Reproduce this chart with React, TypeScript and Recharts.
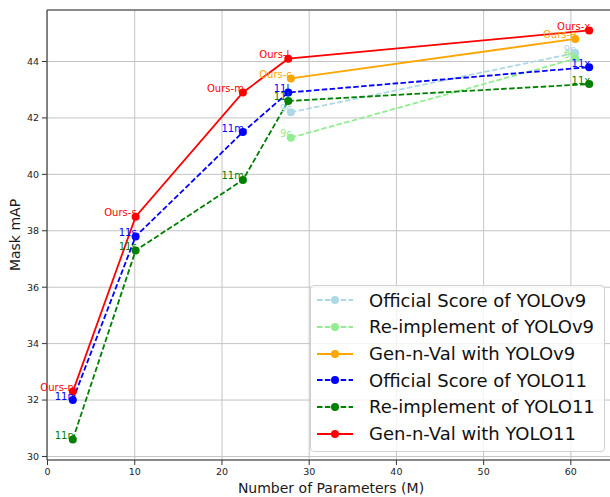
import React from 'react';
import {
  LineChart,
  Line,
  XAxis,
  YAxis,
  CartesianGrid,
  ReferenceLine,
  LabelList,
  Legend,
} from 'recharts';

// ---- data ----
const yolo11Params = [2.9, 10.1, 22.4, 27.6, 62.1];
const yolov9Params = [27.9, 60.5];

const v9Official = [42.2, 44.3];
const v9Reimpl = [41.3, 44.1];
const v9Ours = [43.4, 44.8];
const y11Official = [32.0, 37.8, 41.5, 42.9, 43.8];
const y11Reimpl = [30.6, 37.3, 39.8, 42.6, 43.2];
const y11Ours = [32.3, 38.5, 42.9, 44.1, 45.1];

const v9Labels = ['9c', '9e'];
const oursV9Labels = ['Ours-c', 'Ours-e'];
const y11Labels = ['11n', '11s', '11m', '11l', '11x'];
const oursY11Labels = ['Ours-n', 'Ours-s', 'Ours-m', 'Ours-l', 'Ours-x'];

const xTicks = [0, 10, 20, 30, 40, 50, 60];
const yTicks = [30, 32, 34, 36, 38, 40, 42, 44];

const seriesNames = [
  'Official Score of YOLOv9',
  'Re-implement of YOLOv9',
  'Gen-n-Val with YOLOv9',
  'Official Score of YOLO11',
  'Re-implement of YOLO11',
  'Gen-n-Val with YOLO11',
];

const FONT = '"DejaVu Sans", sans-serif';

const build = (xs: number[], ys: number[], labels: string[]) =>
  xs.map((x, i) => ({ x, y: ys[i], label: labels[i] }));

const series = [
  { name: seriesNames[0], color: '#add8e6', dashed: true, data: build(yolov9Params, v9Official, v9Labels) },
  { name: seriesNames[1], color: '#90ee90', dashed: true, data: build(yolov9Params, v9Reimpl, v9Labels) },
  { name: seriesNames[2], color: '#ffa500', dashed: false, data: build(yolov9Params, v9Ours, oursV9Labels) },
  { name: seriesNames[3], color: '#0000ff', dashed: true, data: build(yolo11Params, y11Official, y11Labels) },
  { name: seriesNames[4], color: '#008000', dashed: true, data: build(yolo11Params, y11Reimpl, y11Labels) },
  { name: seriesNames[5], color: '#ff0000', dashed: false, data: build(yolo11Params, y11Ours, oursY11Labels) },
];

const DASH = '5.5 2.4';
const LW = 1.8;

const makeLabel = (color: string) => (props: any) => {
  const { x, y, value } = props;
  if (x == null || y == null) return null;
  return (
    <text
      x={x + 1}
      y={y - 4}
      textAnchor="end"
      dominantBaseline="central"
      fontSize={10}
      fontFamily={FONT}
      fill={color}
    >
      {value}
    </text>
  );
};

const LegendContent = () => (
  <div
    style={{
      width: 295,
      height: 167,
      boxSizing: 'border-box',
      border: '1px solid #d0d0d0',
      borderRadius: 4,
      background: 'rgba(255,255,255,0.8)',
      paddingTop: 1,
      fontFamily: FONT,
    }}
  >
    {series.map((s) => (
      <div
        key={s.name}
        style={{ display: 'flex', alignItems: 'center', height: 26.67 }}
      >
        <svg width={36} height={12} style={{ marginLeft: 6, marginRight: 16, flex: 'none' }}>
          <line
            x1={0}
            y1={6}
            x2={36}
            y2={6}
            stroke={s.color}
            strokeWidth={LW}
            strokeDasharray={s.dashed ? DASH : undefined}
          />
          <circle cx={18} cy={6} r={4} fill={s.color} />
        </svg>
        <span style={{ fontSize: 18, color: '#111', whiteSpace: 'nowrap' }}>{s.name}</span>
      </div>
    ))}
  </div>
);

export default function App() {
  return (
    <div
      style={{
        position: 'fixed',
        left: 0,
        top: 0,
        width: 610,
        height: 497,
        overflow: 'hidden',
        background: '#fff',
      }}
    >
      <LineChart
        width={620}
        height={497}
        margin={{ top: 10, right: 5, left: 0, bottom: 0 }}
        style={{ fontFamily: FONT }}
      >
        <CartesianGrid stroke="#c4c4c4" strokeWidth={1} />
        <XAxis
          dataKey="x"
          type="number"
          domain={[-0.06, 65.06]}
          allowDataOverflow
          ticks={xTicks}
          height={37}
          tickSize={5}
          tickMargin={3}
          stroke="#333"
          tick={{ fontSize: 9.5, fill: '#222', fontFamily: FONT }}
          label={() => (
            <text
              x={331}
              y={493}
              textAnchor="middle"
              fontSize={14}
              fontFamily={FONT}
              fill="#1a1a1a"
            >
              Number of Parameters (M)
            </text>
          )}
        />
        <YAxis
          type="number"
          domain={[29.875, 45.825]}
          allowDataOverflow
          ticks={yTicks}
          width={47}
          tickSize={5}
          tickMargin={3}
          stroke="#333"
          tick={{ fontSize: 9.5, fill: '#222', fontFamily: FONT }}
          label={() => (
            <text
              x={15}
              y={235}
              transform="rotate(-90 15 235)"
              textAnchor="middle"
              dominantBaseline="central"
              fontSize={14}
              fontFamily={FONT}
              fill="#1a1a1a"
            >
              Mask mAP
            </text>
          )}
        />
        <ReferenceLine y={45.825} stroke="#333" strokeWidth={1} />
        {series.map((s) => (
          <Line
            key={s.name}
            data={s.data}
            dataKey="y"
            name={s.name}
            type="linear"
            stroke={s.color}
            strokeWidth={LW}
            strokeDasharray={s.dashed ? DASH : undefined}
            dot={{ r: 4, fill: s.color, stroke: s.color, strokeWidth: 0 }}
            activeDot={false}
            isAnimationActive={false}
          />
        ))}
        {series.map((s) => (
          <Line
            key={s.name + '-labels'}
            data={s.data}
            dataKey="y"
            legendType="none"
            type="linear"
            stroke="none"
            dot={false}
            activeDot={false}
            isAnimationActive={false}
          >
            <LabelList dataKey="label" content={makeLabel(s.color)} />
          </Line>
        ))}
        <Legend
          layout="vertical"
          align="center"
          verticalAlign="middle"
          content={() => <LegendContent />}
          wrapperStyle={{ position: 'absolute', left: 310, top: 285, width: 295, height: 167 }}
        />
      </LineChart>
    </div>
  );
}
